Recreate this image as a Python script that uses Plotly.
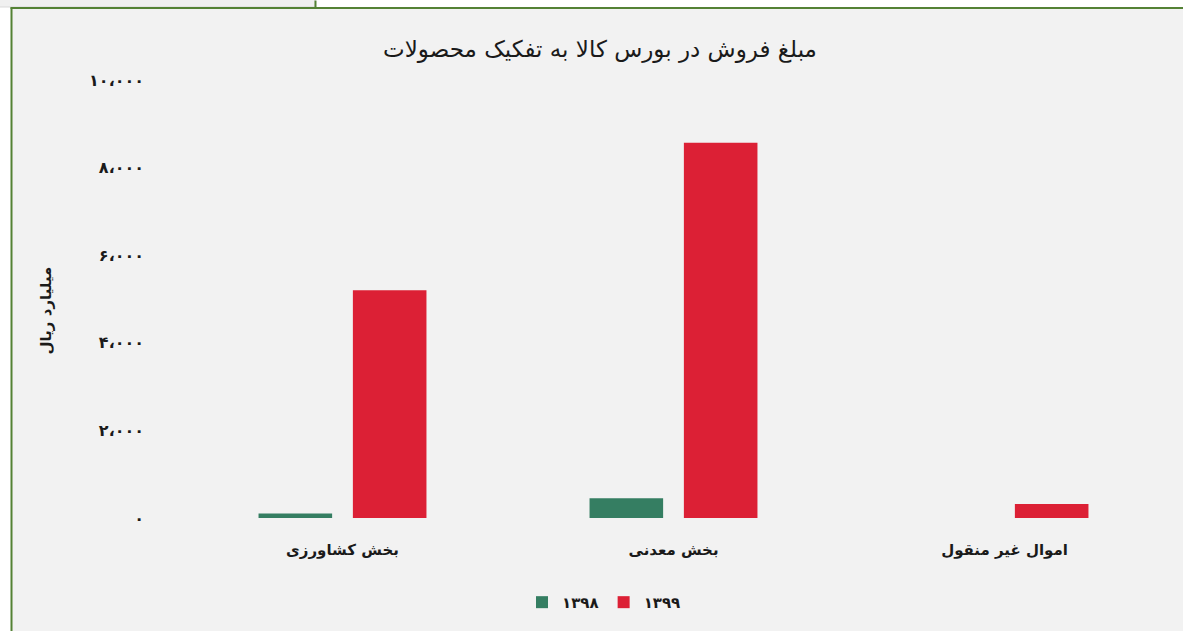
import plotly.graph_objects as go

categories = ["بخش کشاورزی", "بخش معدنی", "اموال غیر منقول"]
values_1398 = [100, 450, 0]
values_1399 = [5200, 8570, 320]
series_names = ["۱۳۹۸", "۱۳۹۹"]
tick_vals = [0, 2000, 4000, 6000, 8000, 10000]
tick_text = ["۰", "۲،۰۰۰", "۴،۰۰۰", "۶،۰۰۰", "۸،۰۰۰", "۱۰،۰۰۰"]

W, H = 1183, 631
L, R, T, B = 177, 13, 80, 110
PW, PH = W - L - R, H - T - B

def px(x):
    return (x - L) / PW

def py(y):
    return (H - B - y) / PH

FONT = "DejaVu Sans"
GREEN_BORDER = "#548235"
TXT = "#1a1a1a"

fig = go.Figure()
fig.add_trace(go.Bar(x=categories, y=values_1398, name="<b>" + series_names[0] + "</b>",
                     marker=dict(color="#357E62", line=dict(width=0))))
fig.add_trace(go.Bar(x=categories, y=values_1399, name="<b>" + series_names[1] + "</b>",
                     marker=dict(color="#DC2035", line=dict(width=0))))

shapes = [
    dict(type="rect", xref="paper", yref="paper", x0=px(11), x1=px(W + 5), y0=py(8), y1=py(H + 5),
         fillcolor="#f2f2f2", line=dict(width=0), layer="below"),
    dict(type="rect", xref="paper", yref="paper", x0=px(-5), x1=px(315), y0=py(-5), y1=py(6.5),
         fillcolor="#f0f0f0", line=dict(color="#d9d9d9", width=1), layer="below"),
    dict(type="line", xref="paper", yref="paper", x0=px(315.5), x1=px(315.5), y0=py(0), y1=py(8),
         line=dict(color=GREEN_BORDER, width=2), layer="below"),
    dict(type="line", xref="paper", yref="paper", x0=px(10.5), x1=px(W + 5), y0=py(7.5), y1=py(7.5),
         line=dict(color=GREEN_BORDER, width=2), layer="below"),
    dict(type="line", xref="paper", yref="paper", x0=px(11.5), x1=px(11.5), y0=py(7), y1=py(H + 5),
         line=dict(color=GREEN_BORDER, width=2), layer="below"),
]

fig.update_layout(
    width=W, height=H,
    margin=dict(l=L, r=R, t=T, b=B, pad=0),
    paper_bgcolor="white",
    plot_bgcolor="rgba(0,0,0,0)",
    barmode="group", bargap=0.43, bargroupgap=0.22,
    font=dict(family=FONT, color=TXT),
    title=dict(text="مبلغ فروش در بورس کالا به تفکیک محصولات", x=px(600), xanchor="center",
               xref="paper", y=1 - 49 / H, yanchor="middle",
               font=dict(size=23, family=FONT, color=TXT)),
    shapes=shapes,
    showlegend=True,
    legend=dict(orientation="h", x=px(604), y=py(606), xanchor="center", yanchor="middle",
                font=dict(size=15, family=FONT, color=TXT), bgcolor="rgba(0,0,0,0)",
                traceorder="normal"),
    annotations=[dict(text="<b>میلیارد ریال</b>", textangle=-90, xref="paper", yref="paper",
                      x=px(46), y=py(312), xanchor="center", yanchor="middle", showarrow=False,
                      font=dict(size=15, family=FONT, color=TXT))],
)
fig.update_xaxes(showgrid=False, showline=False, zeroline=False, ticks="",
                 tickfont=dict(size=15, family=FONT, color=TXT),
                 ticklabelstandoff=21,
                 tickvals=categories, ticktext=["<b>" + c + "</b>" for c in categories])
fig.update_yaxes(range=[0, 10000], showgrid=False, showline=False, zeroline=False, ticks="",
                 tickvals=tick_vals, ticktext=["<b>" + t + "</b>" for t in tick_text],
                 ticklabelstandoff=32,
                 tickfont=dict(size=16, family=FONT, color=TXT))

fig.write_html("out.html", config={"displayModeBar": False},
               post_script="document.body.style.margin='0';")
